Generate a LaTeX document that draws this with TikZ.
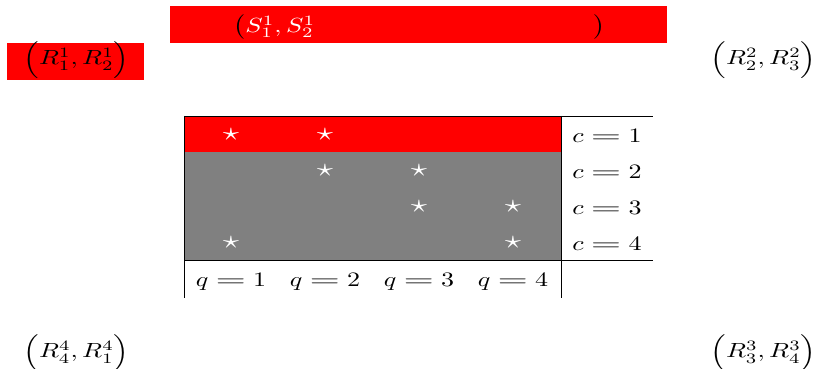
\documentclass[tikz,border=0pt]{standalone}
\usepackage{graphicx}
\newcommand{\hx}[1]{\scalebox{1.27}[1]{#1}}
\newcommand{\weq}{\mathrel{\scalebox{1.5}[1]{$=$}}}
\newcommand{\wstar}{\scalebox{1.25}{$\star$}}
\begin{document}
\begin{tikzpicture}[x=0.4878pt,y=-0.4878pt,
  lbl/.style={inner sep=0pt, anchor=base},
  starnode/.style={inner sep=0pt, text=white},
  rulel/.style={line width=0.45pt, black}]
\useasboundingbox (0,0) rectangle (815,369);
% red boxes behind the top labels
\fill[red] (170,6) rectangle (667,43);
\fill[red] (7,43) rectangle (144,80);
% top labels
\node[lbl, anchor=base west] (s) at (233,32.5)
  {\hx{$\bigl(\textcolor{white}{S^1_1, S^1_2}\hspace{107pt}\bigr)$}};
\node[lbl] (r1) at (76.5,65) {\hx{$\Bigl(R^1_1, R^1_2\Bigr)$}};
\node[lbl] (r2) at (763.5,65) {\hx{$\Bigl(R^2_2, R^2_3\Bigr)$}};
\node[lbl] (r4) at (76.5,358) {\hx{$\Bigl(R^4_4, R^4_1\Bigr)$}};
\node[lbl] (r3) at (763.5,358) {\hx{$\Bigl(R^3_3, R^3_4\Bigr)$}};
% table fills
\fill[red] (184,116) rectangle (561,152);
\fill[gray] (184,152) rectangle (561,260);
% table rules
\draw[rulel] (184,116) -- (653,116);
\draw[rulel] (184,260.5) -- (653,260.5);
\draw[rulel] (184,116) -- (184,298);
\draw[rulel] (561,116) -- (561,298);
% stars
\node[starnode] (s11) at (231,134.5) {\hx{\wstar}};
\node[starnode] (s12) at (325,134.5) {\hx{\wstar}};
\node[starnode] (s22) at (325,170.5) {\hx{\wstar}};
\node[starnode] (s23) at (419,170.5) {\hx{\wstar}};
\node[starnode] (s33) at (419,206.5) {\hx{\wstar}};
\node[starnode] (s34) at (513,206.5) {\hx{\wstar}};
\node[starnode] (s41) at (231,242.5) {\hx{\wstar}};
\node[starnode] (s44) at (513,242.5) {\hx{\wstar}};
% row labels
\node[lbl] (c1) at (607,142.5) {\hx{$c\weq1$}};
\node[lbl] (c2) at (607,178.5) {\hx{$c\weq2$}};
\node[lbl] (c3) at (607,214.5) {\hx{$c\weq3$}};
\node[lbl] (c4) at (607,250.5) {\hx{$c\weq4$}};
% column labels
\node[lbl] (q1) at (231,287) {\hx{$q\weq1$}};
\node[lbl] (q2) at (325,287) {\hx{$q\weq2$}};
\node[lbl] (q3) at (419,287) {\hx{$q\weq3$}};
\node[lbl] (q4) at (513,287) {\hx{$q\weq4$}};
\end{tikzpicture}
\end{document}
